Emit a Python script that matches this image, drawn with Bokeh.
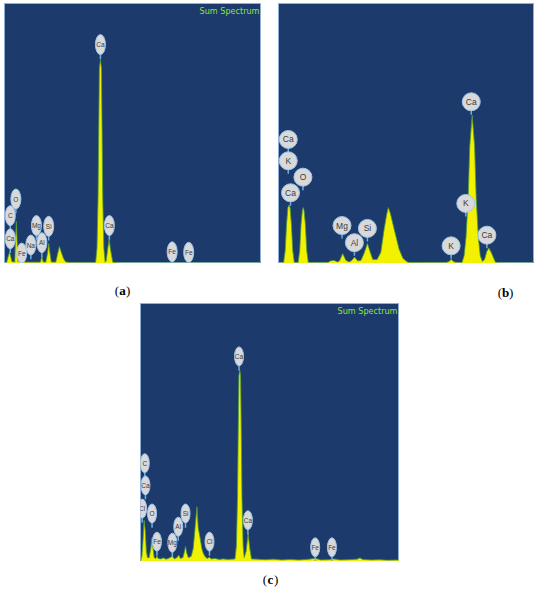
from bokeh.plotting import figure
from bokeh.models import Range1d, Label, Spacer
from bokeh.layouts import column, row
from bokeh.embed import file_html
from bokeh.resources import INLINE
from bokeh.core.properties import value

# ---------------- data (energy keV, intensity % of panel height) ----------------
# Panel (a)
a_energy = [0.05, 0.12, 0.20, 0.245, 0.29, 0.33, 0.44, 0.475, 0.50, 0.525, 0.56, 0.70, 0.90, 1.20, 1.42,
            1.47, 1.52, 1.62, 1.69, 1.73, 1.78, 1.83, 2.00, 2.08, 2.14, 2.22, 2.30, 2.38, 2.60, 3.48,
            3.52, 3.57, 3.61, 3.635, 3.66, 3.70, 3.74, 3.765, 3.79, 3.83, 3.88, 3.92, 3.97, 4.03, 4.09,
            4.17, 4.40, 9.83]
a_counts = [0.0, 0.0, 3.0, 4.3, 2.5, 0.8, 0.5, 10.0, 16.2, 10.0, 0.8, 0.6, 0.5, 0.5, 0.5,
            3.0, 0.6, 0.5, 4.0, 7.7, 4.0, 0.6, 0.5, 4.0, 6.5, 4.0, 1.8, 0.6, 0.3, 0.3,
            0.5, 6.0, 25.0, 50.0, 75.0, 78.5, 75.0, 50.0, 25.0, 6.0, 0.5, 1.0, 5.0, 9.3, 5.0,
            0.5, 0.2, 0.2]
a_lab_el = ["Ca", "Ca", "O", "C", "Ca", "Fe", "Na", "Mg", "Al", "Si", "Fe", "Fe"]
a_lab_x = [3.70, 4.04, 0.483, 0.27, 0.27, 0.706, 1.052, 1.264, 1.472, 1.732, 6.43, 7.06]
a_lab_y = [84.2, 14.6, 24.8, 18.4, 9.5, 4.0, 7.1, 14.6, 8.0, 14.3, 4.5, 4.3]

# Panel (b)
b_energy = [0.085, 0.18, 0.21, 0.235, 0.26, 0.28, 0.30, 0.325, 0.35, 0.38, 0.45, 0.48, 0.505, 0.53, 0.545,
            0.56, 0.585, 0.61, 0.64, 1.00, 1.05, 1.12, 1.18, 1.22, 1.28, 1.34, 1.40, 1.45, 1.50, 1.56,
            1.62, 1.68, 1.74, 1.79, 1.84, 1.92, 1.99, 2.05, 2.10, 2.13, 2.17, 2.24, 2.33, 2.40, 2.45,
            2.50, 3.20, 3.26, 3.30, 3.34, 3.40, 3.50, 3.54, 3.575, 3.615, 3.645, 3.69, 3.735, 3.765, 3.805,
            3.84, 3.88, 3.92, 3.96, 4.00, 4.05, 4.12, 4.20, 4.85]
b_counts = [0.0, 0.3, 5.0, 15.0, 21.5, 22.5, 21.5, 15.0, 5.0, 0.3, 0.3, 5.0, 15.0, 20.5, 21.5,
            20.5, 15.0, 5.0, 0.3, 0.3, 1.0, 1.2, 0.6, 1.0, 3.8, 1.2, 0.6, 1.2, 2.5, 1.0,
            1.2, 4.0, 7.7, 4.5, 1.5, 1.5, 4.3, 13.0, 19.0, 21.5, 19.0, 13.0, 5.5, 2.0, 1.1,
            0.4, 0.3, 0.8, 1.6, 0.8, 0.3, 0.3, 3.0, 10.0, 25.0, 45.0, 57.0, 45.0, 25.0, 10.0,
            3.0, 0.8, 1.5, 4.5, 6.0, 4.0, 0.6, 0.2, 0.2]
b_lab_el = ["Ca", "K", "O", "Ca", "Mg", "Al", "Si", "K", "K", "Ca", "Ca"]
b_lab_x = [0.267, 0.267, 0.54, 0.309, 1.267, 1.498, 1.74, 3.298, 3.571, 3.673, 3.964]
b_lab_y = [47.7, 39.5, 33.2, 27.2, 14.6, 8.0, 13.5, 6.8, 23.1, 62.2, 10.9]

# Panel (c)
c_energy = [0.13, 0.18, 0.22, 0.26, 0.30, 0.34, 0.38, 0.44, 0.50, 0.54, 0.58, 0.62, 0.68, 0.72, 0.76,
            0.85, 0.95, 1.05, 1.15, 1.27, 1.35, 1.45, 1.50, 1.56, 1.65, 1.70, 1.745, 1.79, 1.85, 1.95,
            2.02, 2.08, 2.155, 2.20, 2.26, 2.33, 2.38, 2.45, 2.52, 2.60, 2.68, 2.80, 2.95, 3.10, 3.25,
            3.40, 3.52, 3.57, 3.61, 3.635, 3.66, 3.69, 3.72, 3.745, 3.77, 3.81, 3.85, 3.92, 3.99, 4.05,
            4.11, 4.30, 4.60, 4.90, 5.20, 5.50, 5.80, 6.10, 6.40, 6.60, 6.90, 7.06, 7.30, 7.60, 7.90,
            8.00, 8.10, 8.40, 8.70, 9.00, 9.42]
c_counts = [0.0, 2.0, 8.0, 16.0, 12.0, 4.0, 1.5, 1.5, 5.0, 9.0, 5.0, 1.5, 1.2, 2.2, 1.2,
            1.0, 1.4, 0.9, 1.3, 2.0, 1.0, 1.6, 2.5, 1.2, 1.5, 3.5, 5.8, 3.2, 1.5, 2.0,
            5.0, 12.0, 21.2, 13.0, 9.6, 5.0, 3.2, 1.8, 1.2, 1.6, 1.0, 1.2, 0.8, 1.0, 0.8,
            0.9, 1.0, 6.0, 25.0, 50.0, 72.0, 74.3, 72.0, 50.0, 25.0, 6.0, 1.5, 4.0, 10.9, 5.0,
            1.0, 0.9, 0.7, 0.9, 0.6, 0.8, 0.6, 0.8, 1.2, 0.6, 0.7, 1.0, 0.6, 0.7, 0.9,
            1.4, 0.8, 0.6, 0.7, 0.5, 0.6]
c_lab_el = ["C", "Ca", "Cl", "O", "Fe", "Mg", "Al", "Si", "Cl", "Ca", "Ca", "Fe", "Fe"]
c_lab_x = [0.283, 0.307, 0.19, 0.544, 0.72, 1.272, 1.484, 1.745, 2.604, 3.664, 3.982, 6.396, 6.996]
c_lab_y = [38.1, 29.5, 20.5, 18.6, 7.7, 7.3, 13.5, 18.6, 7.7, 79.5, 16.0, 5.5, 5.5]

# panel captions
top_tags = ["a", "b"]
bottom_tags = ["c"]

# ---------------- styles ----------------
NAVY = "#1c3b6c"
YELLOW = "#f2f200"
EDGE = "#4f9a3a"
BUBBLE = "#d9d9d9"
BUBBLE_EDGE = "#9fc5e8"
POINTER = "#6ab0e6"
SUMCOL = "#8fe33a"
SUMFONT = "'Liberation Sans Narrow', 'DejaVu Sans Condensed', 'Liberation Sans', sans-serif"


def make_panel(width, height, xr, left, top, energy, counts, lab_el, lab_x, lab_y,
               ew, eh, fs, ptr, sum_spectrum):
    p = figure(width=width, height=height, x_range=Range1d(*xr), y_range=Range1d(0, 100),
               output_backend="svg", toolbar_location=None,
               x_axis_location=None, y_axis_location=None,
               min_border_left=left, min_border_right=0, min_border_top=top, min_border_bottom=0,
               background_fill_color=NAVY, border_fill_color="white",
               outline_line_color="#8fb0d6", outline_line_width=1)
    p.grid.visible = False
    base = [0.0] * len(energy)
    p.varea(x=energy, y1=base, y2=counts, fill_color=YELLOW)
    p.line(x=energy, y=counts, line_color=EDGE, line_width=0.8)
    # label pointers
    p.segment(x0=lab_x, y0=lab_y, x1=lab_x, y1=[v - ptr for v in lab_y],
              line_color=POINTER, line_width=1.5)
    p.ellipse(x=lab_x, y=lab_y, width=ew, height=eh, width_units="screen", height_units="screen",
              fill_color=BUBBLE, line_color=BUBBLE_EDGE, line_width=1)
    p.text(x=lab_x, y=lab_y, text=lab_el, text_align="center", text_baseline="middle",
           text_font=value("Liberation Sans"), text_font_size=value(fs), text_color="#3a3a3a")
    if sum_spectrum:
        p.add_layout(Label(x=xr[1], y=99, x_offset=-2, text="Sum Spectrum", text_align="right",
                           text_baseline="top", text_font=SUMFONT,
                           text_font_size="9px", text_color=SUMCOL))
    return p


def make_strip(width, height, tags, tag_x, tag_y):
    s = figure(width=width, height=height, x_range=Range1d(0, width), y_range=Range1d(0, height),
               output_backend="svg", toolbar_location=None,
               x_axis_location=None, y_axis_location=None,
               min_border_left=0, min_border_right=0, min_border_top=0, min_border_bottom=0,
               background_fill_color="white", border_fill_color="white", outline_line_color=None)
    s.grid.visible = False
    common = dict(text_baseline="middle", text_font=value("Liberation Serif"),
                  text_font_size=value("13px"), text_color="black")
    s.text(x=tag_x, y=tag_y, text=["("] * len(tags), x_offset=-3.5, text_align="right", **common)
    s.text(x=tag_x, y=tag_y, text=tags, text_align="center", text_font_style="bold", **common)
    s.text(x=tag_x, y=tag_y, text=[")"] * len(tags), x_offset=3.5, text_align="left", **common)
    return s


pa = make_panel(261, 263, (0.05, 9.83), 4, 3, a_energy, a_counts, a_lab_el, a_lab_x, a_lab_y,
                10, 20, "6.5px", 5.5, True)
pb = make_panel(256, 263, (0.085, 4.85), 0, 3, b_energy, b_counts, b_lab_el, b_lab_x, b_lab_y,
                18, 18, "8.5px", 5.0, False)
pc = make_panel(259, 258, (0.13, 9.42), 0, 0, c_energy, c_counts, c_lab_el, c_lab_x, c_lab_y,
                9, 19, "6.5px", 5.5, True)

strip_top = make_strip(534, 40, top_tags, [122, 505], [13, 11])
strip_bottom = make_strip(534, 27, bottom_tags, [270], [9])

layout = column(row(pa, Spacer(width=17, height=263), pb),
                strip_top,
                row(Spacer(width=140, height=258), pc),
                strip_bottom)

open("out.html", "w").write(file_html(layout, INLINE))
